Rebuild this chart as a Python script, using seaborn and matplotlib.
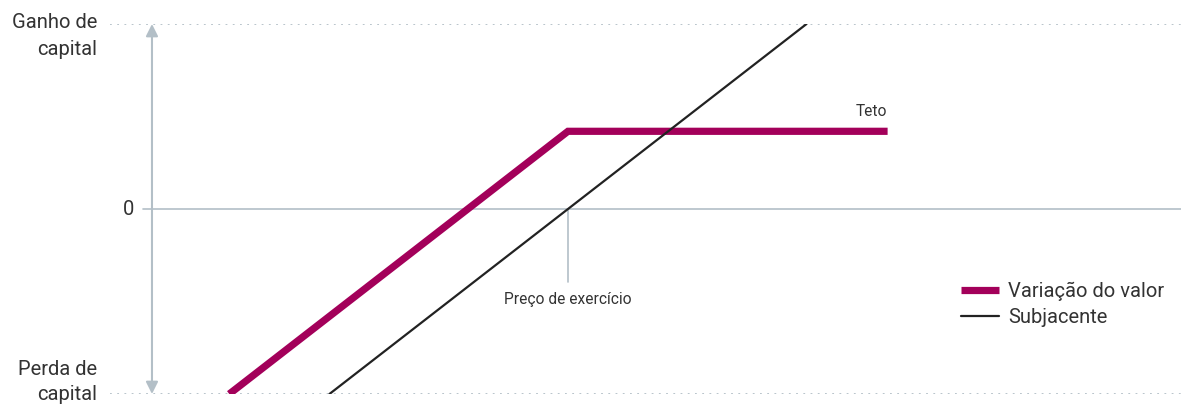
import matplotlib
matplotlib.use("Agg")
import matplotlib.pyplot as plt
import seaborn as sns
import pandas as pd

# ------------------------------------------------------------------
#  Data (price units, strike = 100)
# ------------------------------------------------------------------
strike = 100
cap_level = 21

preco_variacao = [29, 100, 167]
variacao_valor = [-50, 21, 21]

preco_subjacente = [50, 150]
valor_subjacente = [-50, 50]

y_labels = ["Ganho de\ncapital", "0", "Perda de\ncapital"]
legend_labels = ["Variação do valor", "Subjacente"]

MAGENTA = "#a3005a"
DARK = "#222222"
GRID = "#b3bfc7"
TEXT = "#333333"

sns.set_theme(style="white")
plt.rcParams["font.family"] = ["Roboto", "DejaVu Sans"]

fig = plt.figure(figsize=(11.81, 4.05), dpi=100)
ax = fig.add_axes([110 / 1181, (405 - 394) / 405, 1071 / 1181, 370 / 405])
ax.set_xlim(4.0, 228.5)
ax.set_ylim(-50, 50)
ax.axis("off")

# reference lines
ax.axhline(50, color=GRID, lw=1.3, ls=(0, (1, 3)))
ax.axhline(-50, color=GRID, lw=1.3, ls=(0, (1, 3)))
ax.axhline(0, xmin=(143 - 110) / 1071, color=GRID, lw=1.2)
ax.plot([strike, strike], [0, -19.7], color=GRID, lw=1.2)
ax.annotate("", xy=(12.8, 50), xytext=(12.8, -50),
            arrowprops=dict(arrowstyle="<|-|>", color=GRID, lw=1.5,
                            mutation_scale=18, shrinkA=0, shrinkB=0))

df_var = pd.DataFrame({"preco": preco_variacao, "valor": variacao_valor})
df_sub = pd.DataFrame({"preco": preco_subjacente, "valor": valor_subjacente})

sns.lineplot(data=df_var, x="preco", y="valor", ax=ax, color=MAGENTA,
             linewidth=5.2, label=legend_labels[0], sort=False,
             solid_capstyle="butt", solid_joinstyle="miter")
sns.lineplot(data=df_sub, x="preco", y="valor", ax=ax, color=DARK,
             linewidth=1.6, label=legend_labels[1], sort=False)

# y labels, one line at a time
ytf = ax.get_yaxis_transform()
for line, y in zip(y_labels[0].split("\n"), [50.5, 43.0]):
    ax.text(-0.012, y, line, transform=ytf, ha="right", va="center",
            fontsize=14.5, color=TEXT)
ax.text((134 - 110) / 1071, 0, y_labels[1], transform=ytf, ha="right",
        va="center", fontsize=14.5, color=TEXT)
for line, y in zip(y_labels[2].split("\n"), [-43.5, -50.0]):
    ax.text(-0.012, y, line, transform=ytf, ha="right", va="center",
            fontsize=14.5, color=TEXT)

ax.text(strike, -24.5, "Preço de exercício", ha="center", va="center",
        fontsize=11.2, color=TEXT)
ax.text(167, cap_level + 5.3, "Teto", ha="right", va="center",
        fontsize=11.2, color=TEXT)

ax.legend(loc="upper left", bbox_to_anchor=(947 / 1181, (405 - 268) / 405),
          bbox_transform=fig.transFigure, frameon=False, fontsize=14.5,
          handlelength=1.9, handletextpad=0.45, labelspacing=0.32,
          borderpad=0.2, labelcolor=TEXT)

fig.savefig("out.png", dpi=100)
